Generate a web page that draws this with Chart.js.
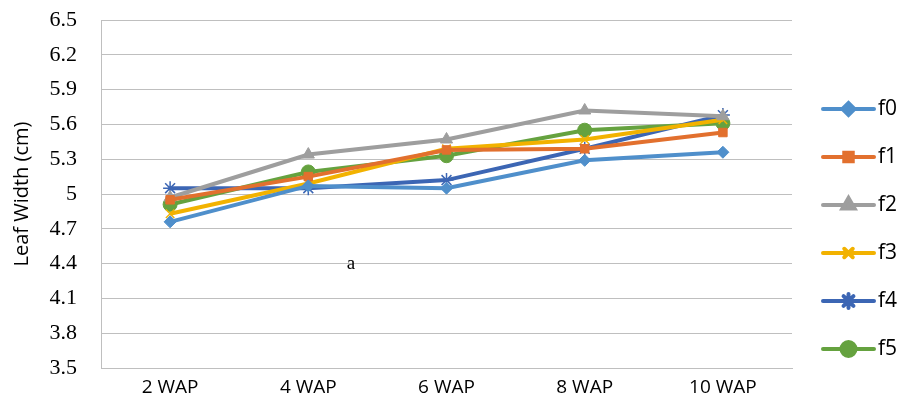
<!DOCTYPE html>
<html>
<head>
<meta charset="utf-8">
<script src="https://cdn.jsdelivr.net/npm/chart.js@4"></script>
<style>
  html, body { margin: 0; padding: 0; background: #fff; }
  #wrap { width: 904px; height: 414px; }
</style>
</head>
<body>
<div id="wrap"><canvas id="leafChart" width="904" height="414"></canvas></div>
<script>
// Leaf width by weeks after planting
const weeks = ['2 WAP', '4 WAP', '6 WAP', '8 WAP', '10 WAP'];
const seriesNames = ['f0', 'f1', 'f2', 'f3', 'f4', 'f5'];
const f0 = [4.76, 5.07, 5.05, 5.29, 5.36];
const f1 = [4.95, 5.15, 5.38, 5.39, 5.53];
const f2 = [4.97, 5.34, 5.47, 5.72, 5.67];
const f3 = [4.83, 5.09, 5.39, 5.47, 5.64];
const f4 = [5.05, 5.05, 5.12, 5.39, 5.68];
const f5 = [4.91, 5.19, 5.33, 5.55, 5.61];
const yTicks = [3.5, 3.8, 4.1, 4.4, 4.7, 5, 5.3, 5.6, 5.9, 6.2, 6.5];

const colors = ['#4f8fcb', '#e2702e', '#9e9e9e', '#f2b200', '#3c66b4', '#65a23f'];
const markers = ['rectRot', 'rect', 'triangle', 'crossRot', 'star', 'circle'];
const radii = [6, 6, 7, 6, 7, 7];
const values = [f0, f1, f2, f3, f4, f5];

const datasets = seriesNames.map((name, i) => ({
    label: name,
    data: values[i],
    borderColor: colors[i],
    backgroundColor: colors[i],
    borderWidth: 4,
    pointStyle: markers[i],
    pointRadius: radii[i],
    pointBorderWidth: (markers[i] === 'crossRot' || markers[i] === 'star') ? 1.5 : 1,
    pointBorderColor: colors[i],
    pointBackgroundColor: colors[i],
    tension: 0
}));

// legend drawn by hand: line with marker in the middle, like the original
const sideLegend = {
    id: 'sideLegend',
    afterDraw(chart) {
        const ctx = chart.ctx;
        ctx.save();
        chart.data.datasets.forEach((ds, i) => {
            const y = 109 + i * 48;
            ctx.strokeStyle = ds.borderColor;
            ctx.fillStyle = ds.borderColor;
            ctx.lineWidth = 4;
            ctx.lineCap = 'round';
            ctx.beginPath();
            ctx.moveTo(823, y);
            ctx.lineTo(874, y);
            ctx.stroke();
            Chart.helpers.drawPoint(ctx, {
                pointStyle: ds.pointStyle,
                radius: ds.pointRadius,
                rotation: 0,
                borderWidth: ds.pointBorderWidth
            }, 848.5, y);
            ctx.fillStyle = '#000';
            ctx.font = '21px "Open Sans", "Liberation Sans", sans-serif';
            ctx.textAlign = 'left';
            ctx.textBaseline = 'middle';
            ctx.fillText(ds.label, 878, y);
        });
        // stray annotation letter from the source figure
        ctx.font = '19px "Liberation Serif", serif';
        ctx.fillStyle = '#000';
        ctx.textAlign = 'center';
        ctx.fillText('a', 351, 264);
        ctx.restore();
    }
};

const config = {
    type: 'line',
    data: { labels: weeks, datasets: datasets },
    options: {
        responsive: false,
        animation: false,
        layout: { padding: { left: 0, right: 112, top: 20, bottom: 0 } },
        plugins: {
            legend: { display: false },
            tooltip: { enabled: false }
        },
        scales: {
            x: {
                offset: true,
                grid: { display: false, drawTicks: false },
                border: { display: true, color: '#bfbfbf', width: 1 },
                ticks: {
                    color: '#000',
                    padding: 8,
                    font: { family: '"Open Sans", "Liberation Sans", sans-serif', size: 19 }
                },
                afterFit(scale) {
                    scale.height = 46;
                    scale.paddingLeft = 0;
                    scale.paddingRight = 0;
                }
            },
            y: {
                min: 3.5,
                max: 6.5,
                afterBuildTicks(scale) {
                    scale.ticks = yTicks.map(v => ({ value: v }));
                },
                grid: { color: '#bfbfbf', lineWidth: 1, drawTicks: false },
                border: { display: true, color: '#bfbfbf', width: 1 },
                ticks: {
                    color: '#000',
                    padding: 24,
                    font: { family: '"Liberation Serif", "Times New Roman", serif', size: 22 },
                    callback: v => String(Math.round(v * 10) / 10)
                },
                title: {
                    display: true,
                    text: 'Leaf Width (cm)',
                    color: '#000',
                    padding: { top: 10, bottom: 0 },
                    font: { family: '"Open Sans", "Liberation Sans", sans-serif', size: 20 }
                },
                afterFit(scale) {
                    scale.width = 101;
                    scale.paddingTop = 0;
                    scale.paddingBottom = 0;
                }
            }
        }
    },
    plugins: [sideLegend]
};

window.onload = function() {
    const ctx = document.getElementById('leafChart').getContext('2d');
    new Chart(ctx, config);
};
</script>
</body>
</html>
